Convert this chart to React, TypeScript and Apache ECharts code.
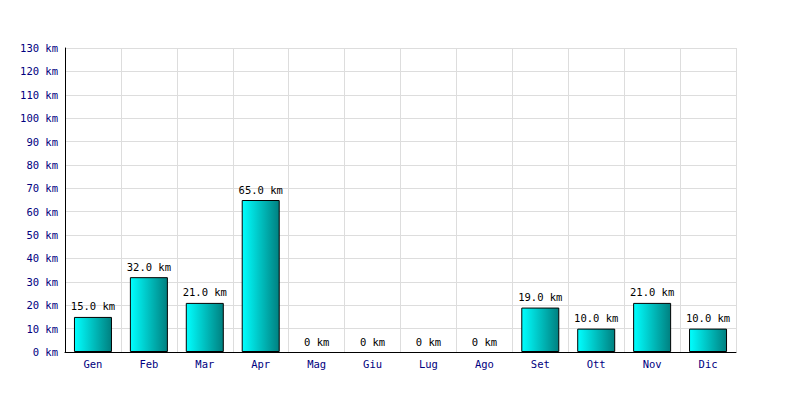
import React, { useEffect, useRef } from "react";
import * as echarts from "echarts";

const categories = ["Gen", "Feb", "Mar", "Apr", "Mag", "Giu", "Lug", "Ago", "Set", "Ott", "Nov", "Dic"];
const values = [15, 32, 21, 65, 0, 0, 0, 0, 19, 10, 21, 10];

export default function App() {
  const ref = useRef<HTMLDivElement>(null);
  useEffect(() => {
    if (!ref.current) return;
    const chart = echarts.init(ref.current, undefined, { renderer: "svg" });
    const font = "'DejaVu Sans Mono', monospace";
    chart.setOption({
      animation: false,
      backgroundColor: "#ffffff",
      grid: { left: 65, right: 64, top: 48, bottom: 48, containLabel: false },
      xAxis: {
        type: "category",
        data: categories,
        boundaryGap: true,
        axisLine: { show: true, lineStyle: { color: "#000000", width: 1 } },
        axisTick: { show: false },
        splitLine: { show: true, lineStyle: { color: "#dddddd", width: 1 } },
        axisLabel: { color: "#000080", fontFamily: font, fontSize: 10.5, margin: 6 },
      },
      yAxis: {
        type: "value",
        min: 0,
        max: 130,
        interval: 10,
        axisLine: { show: true, lineStyle: { color: "#000000", width: 1 } },
        axisTick: { show: false },
        splitLine: { show: true, lineStyle: { color: "#dddddd", width: 1 } },
        axisLabel: {
          color: "#000080",
          fontFamily: font,
          fontSize: 10.5,
          margin: 7,
          formatter: (v: number) => `${v} km`,
        },
      },
      series: [
        {
          type: "bar",
          data: values.map((v) => (v === 0 ? { value: v, itemStyle: { borderWidth: 0 } } : v)),
          barWidth: 38,
          itemStyle: {
            color: new echarts.graphic.LinearGradient(0, 0, 1, 0, [
              { offset: 0, color: "#00ffff" },
              { offset: 1, color: "#008080" },
            ]),
            borderColor: "#000000",
            borderWidth: 1,
          },
          label: {
            show: true,
            position: "top",
            distance: 5,
            color: "#000000",
            fontFamily: font,
            fontSize: 10.5,
            formatter: (p: any) => `${Number(p.value).toFixed(p.value === 0 ? 0 : 1)} km`,
          },
        },
      ],
    });
    return () => chart.dispose();
  }, []);
  return <div ref={ref} style={{ position: "absolute", left: 0, top: 0, width: 800, height: 400 }} />;
}
